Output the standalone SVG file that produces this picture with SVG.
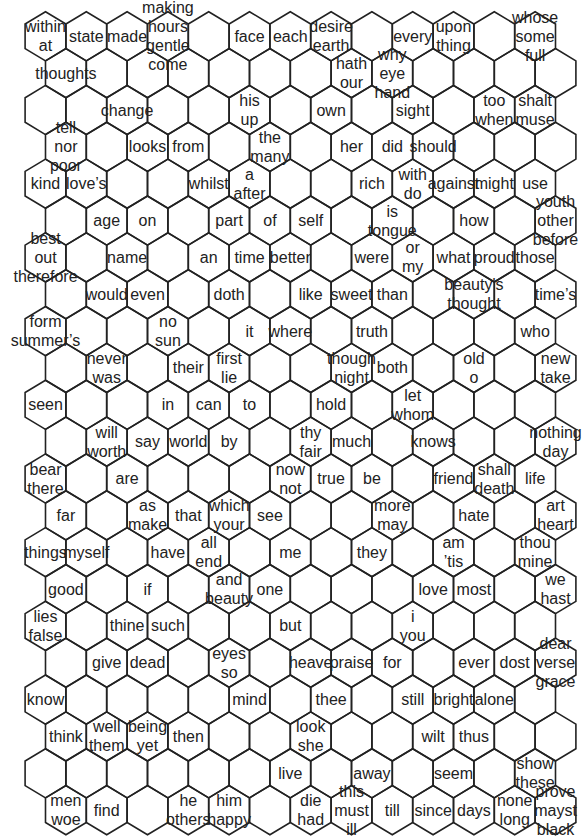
<svg xmlns="http://www.w3.org/2000/svg" xmlns:xlink="http://www.w3.org/1999/xlink" width="584" height="836" viewBox="0 0 584 836">
<style>
.hx{fill:none;stroke:#222;stroke-width:1.6;stroke-linejoin:miter}
text{font-family:"Liberation Sans",Arial,sans-serif;font-size:16px;fill:#222;text-anchor:middle}
</style>
<defs>
<path id="hx" class="hx" d="M0,-24.6L20.4,-12.3L20.4,12.3L0,24.6L-20.4,12.3L-20.4,-12.3Z"/>
</defs>
<rect width="584" height="836" fill="#fff"/>
<g id="empty-cells">
<use href="#hx" x="208.7" y="36.3"/><use href="#hx" x="371.9" y="36.3"/><use href="#hx" x="494.3" y="36.3"/>
<use href="#hx" x="106.7" y="73.15"/><use href="#hx" x="147.5" y="73.15"/><use href="#hx" x="188.3" y="73.15"/><use href="#hx" x="229.1" y="73.15"/><use href="#hx" x="269.9" y="73.15"/><use href="#hx" x="310.7" y="73.15"/><use href="#hx" x="433.1" y="73.15"/><use href="#hx" x="473.9" y="73.15"/><use href="#hx" x="514.7" y="73.15"/><use href="#hx" x="555.5" y="73.15"/>
<use href="#hx" x="45.5" y="110"/><use href="#hx" x="86.3" y="110"/><use href="#hx" x="167.9" y="110"/><use href="#hx" x="208.7" y="110"/><use href="#hx" x="290.3" y="110"/><use href="#hx" x="371.9" y="110"/><use href="#hx" x="453.5" y="110"/>
<use href="#hx" x="106.7" y="146.85"/><use href="#hx" x="229.1" y="146.85"/><use href="#hx" x="310.7" y="146.85"/><use href="#hx" x="473.9" y="146.85"/><use href="#hx" x="514.7" y="146.85"/><use href="#hx" x="555.5" y="146.85"/>
<use href="#hx" x="127.1" y="183.7"/><use href="#hx" x="167.9" y="183.7"/><use href="#hx" x="290.3" y="183.7"/><use href="#hx" x="331.1" y="183.7"/>
<use href="#hx" x="65.9" y="220.55"/><use href="#hx" x="188.3" y="220.55"/><use href="#hx" x="351.5" y="220.55"/><use href="#hx" x="433.1" y="220.55"/><use href="#hx" x="514.7" y="220.55"/>
<use href="#hx" x="86.3" y="257.4"/><use href="#hx" x="167.9" y="257.4"/><use href="#hx" x="331.1" y="257.4"/>
<use href="#hx" x="65.9" y="294.25"/><use href="#hx" x="188.3" y="294.25"/><use href="#hx" x="269.9" y="294.25"/><use href="#hx" x="433.1" y="294.25"/><use href="#hx" x="514.7" y="294.25"/>
<use href="#hx" x="86.3" y="331.1"/><use href="#hx" x="127.1" y="331.1"/><use href="#hx" x="208.7" y="331.1"/><use href="#hx" x="331.1" y="331.1"/><use href="#hx" x="412.7" y="331.1"/><use href="#hx" x="453.5" y="331.1"/><use href="#hx" x="494.3" y="331.1"/>
<use href="#hx" x="65.9" y="367.95"/><use href="#hx" x="147.5" y="367.95"/><use href="#hx" x="269.9" y="367.95"/><use href="#hx" x="310.7" y="367.95"/><use href="#hx" x="433.1" y="367.95"/><use href="#hx" x="514.7" y="367.95"/>
<use href="#hx" x="86.3" y="404.8"/><use href="#hx" x="127.1" y="404.8"/><use href="#hx" x="290.3" y="404.8"/><use href="#hx" x="371.9" y="404.8"/><use href="#hx" x="453.5" y="404.8"/><use href="#hx" x="494.3" y="404.8"/><use href="#hx" x="535.1" y="404.8"/>
<use href="#hx" x="65.9" y="441.65"/><use href="#hx" x="269.9" y="441.65"/><use href="#hx" x="392.3" y="441.65"/><use href="#hx" x="473.9" y="441.65"/><use href="#hx" x="514.7" y="441.65"/>
<use href="#hx" x="86.3" y="478.5"/><use href="#hx" x="167.9" y="478.5"/><use href="#hx" x="208.7" y="478.5"/><use href="#hx" x="249.5" y="478.5"/><use href="#hx" x="412.7" y="478.5"/>
<use href="#hx" x="106.7" y="515.35"/><use href="#hx" x="310.7" y="515.35"/><use href="#hx" x="351.5" y="515.35"/><use href="#hx" x="433.1" y="515.35"/><use href="#hx" x="514.7" y="515.35"/>
<use href="#hx" x="127.1" y="552.2"/><use href="#hx" x="249.5" y="552.2"/><use href="#hx" x="331.1" y="552.2"/><use href="#hx" x="412.7" y="552.2"/><use href="#hx" x="494.3" y="552.2"/>
<use href="#hx" x="106.7" y="589.05"/><use href="#hx" x="188.3" y="589.05"/><use href="#hx" x="310.7" y="589.05"/><use href="#hx" x="351.5" y="589.05"/><use href="#hx" x="392.3" y="589.05"/><use href="#hx" x="514.7" y="589.05"/>
<use href="#hx" x="86.3" y="625.9"/><use href="#hx" x="208.7" y="625.9"/><use href="#hx" x="249.5" y="625.9"/><use href="#hx" x="331.1" y="625.9"/><use href="#hx" x="371.9" y="625.9"/><use href="#hx" x="453.5" y="625.9"/><use href="#hx" x="494.3" y="625.9"/><use href="#hx" x="535.1" y="625.9"/>
<use href="#hx" x="65.9" y="662.75"/><use href="#hx" x="188.3" y="662.75"/><use href="#hx" x="269.9" y="662.75"/><use href="#hx" x="433.1" y="662.75"/>
<use href="#hx" x="86.3" y="699.6"/><use href="#hx" x="127.1" y="699.6"/><use href="#hx" x="167.9" y="699.6"/><use href="#hx" x="208.7" y="699.6"/><use href="#hx" x="290.3" y="699.6"/><use href="#hx" x="371.9" y="699.6"/><use href="#hx" x="535.1" y="699.6"/>
<use href="#hx" x="229.1" y="736.45"/><use href="#hx" x="269.9" y="736.45"/><use href="#hx" x="351.5" y="736.45"/><use href="#hx" x="392.3" y="736.45"/><use href="#hx" x="514.7" y="736.45"/><use href="#hx" x="555.5" y="736.45"/>
<use href="#hx" x="45.5" y="773.3"/><use href="#hx" x="86.3" y="773.3"/><use href="#hx" x="127.1" y="773.3"/><use href="#hx" x="167.9" y="773.3"/><use href="#hx" x="208.7" y="773.3"/><use href="#hx" x="249.5" y="773.3"/><use href="#hx" x="331.1" y="773.3"/><use href="#hx" x="412.7" y="773.3"/><use href="#hx" x="494.3" y="773.3"/>
<use href="#hx" x="147.5" y="810.15"/><use href="#hx" x="269.9" y="810.15"/>
</g>
<g id="connectors"/>
<g id="nodes">
<g id="n0-0" transform="translate(45.5,36.3)"><use href="#hx"/><text><tspan x="0" y="-4">within</tspan><tspan x="0" dy="19">at</tspan></text></g>
<g id="n0-1" transform="translate(86.3,36.3)"><use href="#hx"/><text y="5.5">state</text></g>
<g id="n0-2" transform="translate(127.1,36.3)"><use href="#hx"/><text y="5.5">made</text></g>
<g id="n0-3" transform="translate(167.9,36.3)"><use href="#hx"/><text><tspan x="0" y="-23">making</tspan><tspan x="0" dy="19">hours</tspan><tspan x="0" dy="19">gentle</tspan><tspan x="0" dy="19">come</tspan></text></g>
<g id="n0-5" transform="translate(249.5,36.3)"><use href="#hx"/><text y="5.5">face</text></g>
<g id="n0-6" transform="translate(290.3,36.3)"><use href="#hx"/><text y="5.5">each</text></g>
<g id="n0-7" transform="translate(331.1,36.3)"><use href="#hx"/><text><tspan x="0" y="-4">desire</tspan><tspan x="0" dy="19">earth</tspan></text></g>
<g id="n0-9" transform="translate(412.7,36.3)"><use href="#hx"/><text y="5.5">every</text></g>
<g id="n0-10" transform="translate(453.5,36.3)"><use href="#hx"/><text><tspan x="0" y="-4">upon</tspan><tspan x="0" dy="19">thing</tspan></text></g>
<g id="n0-12" transform="translate(535.1,36.3)"><use href="#hx"/><text><tspan x="0" y="-13.5">whose</tspan><tspan x="0" dy="19">some</tspan><tspan x="0" dy="19">full</tspan></text></g>

<g id="n1-0" transform="translate(65.9,73.15)"><use href="#hx"/><text y="5.5">thoughts</text></g>
<g id="n1-7" transform="translate(351.5,73.15)"><use href="#hx"/><text><tspan x="0" y="-4">hath</tspan><tspan x="0" dy="19">our</tspan></text></g>
<g id="n1-8" transform="translate(392.3,73.15)"><use href="#hx"/><text><tspan x="0" y="-13.5">why</tspan><tspan x="0" dy="19">eye</tspan><tspan x="0" dy="19">hand</tspan></text></g>

<g id="n2-2" transform="translate(127.1,110)"><use href="#hx"/><text y="5.5">change</text></g>
<g id="n2-5" transform="translate(249.5,110)"><use href="#hx"/><text><tspan x="0" y="-4">his</tspan><tspan x="0" dy="19">up</tspan></text></g>
<g id="n2-7" transform="translate(331.1,110)"><use href="#hx"/><text y="5.5">own</text></g>
<g id="n2-9" transform="translate(412.7,110)"><use href="#hx"/><text y="5.5">sight</text></g>
<g id="n2-11" transform="translate(494.3,110)"><use href="#hx"/><text><tspan x="0" y="-4">too</tspan><tspan x="0" dy="19">when</tspan></text></g>
<g id="n2-12" transform="translate(535.1,110)"><use href="#hx"/><text><tspan x="0" y="-4">shalt</tspan><tspan x="0" dy="19">muse</tspan></text></g>

<g id="n3-0" transform="translate(65.9,146.85)"><use href="#hx"/><text><tspan x="0" y="-13.5">tell</tspan><tspan x="0" dy="19">nor</tspan><tspan x="0" dy="19">poor</tspan></text></g>
<g id="n3-2" transform="translate(147.5,146.85)"><use href="#hx"/><text y="5.5">looks</text></g>
<g id="n3-3" transform="translate(188.3,146.85)"><use href="#hx"/><text y="5.5">from</text></g>
<g id="n3-5" transform="translate(269.9,146.85)"><use href="#hx"/><text><tspan x="0" y="-4">the</tspan><tspan x="0" dy="19">many</tspan></text></g>
<g id="n3-7" transform="translate(351.5,146.85)"><use href="#hx"/><text y="5.5">her</text></g>
<g id="n3-8" transform="translate(392.3,146.85)"><use href="#hx"/><text y="5.5">did</text></g>
<g id="n3-9" transform="translate(433.1,146.85)"><use href="#hx"/><text y="5.5">should</text></g>

<g id="n4-0" transform="translate(45.5,183.7)"><use href="#hx"/><text y="5.5">kind</text></g>
<g id="n4-1" transform="translate(86.3,183.7)"><use href="#hx"/><text y="5.5">love’s</text></g>
<g id="n4-4" transform="translate(208.7,183.7)"><use href="#hx"/><text y="5.5">whilst</text></g>
<g id="n4-5" transform="translate(249.5,183.7)"><use href="#hx"/><text><tspan x="0" y="-4">a</tspan><tspan x="0" dy="19">after</tspan></text></g>
<g id="n4-8" transform="translate(371.9,183.7)"><use href="#hx"/><text y="5.5">rich</text></g>
<g id="n4-9" transform="translate(412.7,183.7)"><use href="#hx"/><text><tspan x="0" y="-4">with</tspan><tspan x="0" dy="19">do</tspan></text></g>
<g id="n4-10" transform="translate(453.5,183.7)"><use href="#hx"/><text y="5.5">against</text></g>
<g id="n4-11" transform="translate(494.3,183.7)"><use href="#hx"/><text y="5.5">might</text></g>
<g id="n4-12" transform="translate(535.1,183.7)"><use href="#hx"/><text y="5.5">use</text></g>

<g id="n5-1" transform="translate(106.7,220.55)"><use href="#hx"/><text y="5.5">age</text></g>
<g id="n5-2" transform="translate(147.5,220.55)"><use href="#hx"/><text y="5.5">on</text></g>
<g id="n5-4" transform="translate(229.1,220.55)"><use href="#hx"/><text y="5.5">part</text></g>
<g id="n5-5" transform="translate(269.9,220.55)"><use href="#hx"/><text y="5.5">of</text></g>
<g id="n5-6" transform="translate(310.7,220.55)"><use href="#hx"/><text y="5.5">self</text></g>
<g id="n5-8" transform="translate(392.3,220.55)"><use href="#hx"/><text><tspan x="0" y="-4">is</tspan><tspan x="0" dy="19">tongue</tspan></text></g>
<g id="n5-10" transform="translate(473.9,220.55)"><use href="#hx"/><text y="5.5">how</text></g>
<g id="n5-12" transform="translate(555.5,220.55)"><use href="#hx"/><text><tspan x="0" y="-13.5">youth</tspan><tspan x="0" dy="19">other</tspan><tspan x="0" dy="19">before</tspan></text></g>

<g id="n6-0" transform="translate(45.5,257.4)"><use href="#hx"/><text><tspan x="0" y="-13.5">best</tspan><tspan x="0" dy="19">out</tspan><tspan x="0" dy="19">therefore</tspan></text></g>
<g id="n6-2" transform="translate(127.1,257.4)"><use href="#hx"/><text y="5.5">name</text></g>
<g id="n6-4" transform="translate(208.7,257.4)"><use href="#hx"/><text y="5.5">an</text></g>
<g id="n6-5" transform="translate(249.5,257.4)"><use href="#hx"/><text y="5.5">time</text></g>
<g id="n6-6" transform="translate(290.3,257.4)"><use href="#hx"/><text y="5.5">better</text></g>
<g id="n6-8" transform="translate(371.9,257.4)"><use href="#hx"/><text y="5.5">were</text></g>
<g id="n6-9" transform="translate(412.7,257.4)"><use href="#hx"/><text><tspan x="0" y="-4">or</tspan><tspan x="0" dy="19">my</tspan></text></g>
<g id="n6-10" transform="translate(453.5,257.4)"><use href="#hx"/><text y="5.5">what</text></g>
<g id="n6-11" transform="translate(494.3,257.4)"><use href="#hx"/><text y="5.5">proud</text></g>
<g id="n6-12" transform="translate(535.1,257.4)"><use href="#hx"/><text y="5.5">those</text></g>

<g id="n7-1" transform="translate(106.7,294.25)"><use href="#hx"/><text y="5.5">would</text></g>
<g id="n7-2" transform="translate(147.5,294.25)"><use href="#hx"/><text y="5.5">even</text></g>
<g id="n7-4" transform="translate(229.1,294.25)"><use href="#hx"/><text y="5.5">doth</text></g>
<g id="n7-6" transform="translate(310.7,294.25)"><use href="#hx"/><text y="5.5">like</text></g>
<g id="n7-7" transform="translate(351.5,294.25)"><use href="#hx"/><text y="5.5">sweet</text></g>
<g id="n7-8" transform="translate(392.3,294.25)"><use href="#hx"/><text y="5.5">than</text></g>
<g id="n7-10" transform="translate(473.9,294.25)"><use href="#hx"/><text><tspan x="0" y="-4">beauty's</tspan><tspan x="0" dy="19">thought</tspan></text></g>
<g id="n7-12" transform="translate(555.5,294.25)"><use href="#hx"/><text y="5.5">time’s</text></g>

<g id="n8-0" transform="translate(45.5,331.1)"><use href="#hx"/><text><tspan x="0" y="-4">form</tspan><tspan x="0" dy="19">summer’s</tspan></text></g>
<g id="n8-3" transform="translate(167.9,331.1)"><use href="#hx"/><text><tspan x="0" y="-4">no</tspan><tspan x="0" dy="19">sun</tspan></text></g>
<g id="n8-5" transform="translate(249.5,331.1)"><use href="#hx"/><text y="5.5">it</text></g>
<g id="n8-6" transform="translate(290.3,331.1)"><use href="#hx"/><text y="5.5">where</text></g>
<g id="n8-8" transform="translate(371.9,331.1)"><use href="#hx"/><text y="5.5">truth</text></g>
<g id="n8-12" transform="translate(535.1,331.1)"><use href="#hx"/><text y="5.5">who</text></g>

<g id="n9-1" transform="translate(106.7,367.95)"><use href="#hx"/><text><tspan x="0" y="-4">never</tspan><tspan x="0" dy="19">was</tspan></text></g>
<g id="n9-3" transform="translate(188.3,367.95)"><use href="#hx"/><text y="5.5">their</text></g>
<g id="n9-4" transform="translate(229.1,367.95)"><use href="#hx"/><text><tspan x="0" y="-4">first</tspan><tspan x="0" dy="19">lie</tspan></text></g>
<g id="n9-7" transform="translate(351.5,367.95)"><use href="#hx"/><text><tspan x="0" y="-4">though</tspan><tspan x="0" dy="19">night</tspan></text></g>
<g id="n9-8" transform="translate(392.3,367.95)"><use href="#hx"/><text y="5.5">both</text></g>
<g id="n9-10" transform="translate(473.9,367.95)"><use href="#hx"/><text><tspan x="0" y="-4">old</tspan><tspan x="0" dy="19">o</tspan></text></g>
<g id="n9-12" transform="translate(555.5,367.95)"><use href="#hx"/><text><tspan x="0" y="-4">new</tspan><tspan x="0" dy="19">take</tspan></text></g>

<g id="n10-0" transform="translate(45.5,404.8)"><use href="#hx"/><text y="5.5">seen</text></g>
<g id="n10-3" transform="translate(167.9,404.8)"><use href="#hx"/><text y="5.5">in</text></g>
<g id="n10-4" transform="translate(208.7,404.8)"><use href="#hx"/><text y="5.5">can</text></g>
<g id="n10-5" transform="translate(249.5,404.8)"><use href="#hx"/><text y="5.5">to</text></g>
<g id="n10-7" transform="translate(331.1,404.8)"><use href="#hx"/><text y="5.5">hold</text></g>
<g id="n10-9" transform="translate(412.7,404.8)"><use href="#hx"/><text><tspan x="0" y="-4">let</tspan><tspan x="0" dy="19">whom</tspan></text></g>

<g id="n11-1" transform="translate(106.7,441.65)"><use href="#hx"/><text><tspan x="0" y="-4">will</tspan><tspan x="0" dy="19">worth</tspan></text></g>
<g id="n11-2" transform="translate(147.5,441.65)"><use href="#hx"/><text y="5.5">say</text></g>
<g id="n11-3" transform="translate(188.3,441.65)"><use href="#hx"/><text y="5.5">world</text></g>
<g id="n11-4" transform="translate(229.1,441.65)"><use href="#hx"/><text y="5.5">by</text></g>
<g id="n11-6" transform="translate(310.7,441.65)"><use href="#hx"/><text><tspan x="0" y="-4">thy</tspan><tspan x="0" dy="19">fair</tspan></text></g>
<g id="n11-7" transform="translate(351.5,441.65)"><use href="#hx"/><text y="5.5">much</text></g>
<g id="n11-9" transform="translate(433.1,441.65)"><use href="#hx"/><text y="5.5">knows</text></g>
<g id="n11-12" transform="translate(555.5,441.65)"><use href="#hx"/><text><tspan x="0" y="-4">nothing</tspan><tspan x="0" dy="19">day</tspan></text></g>

<g id="n12-0" transform="translate(45.5,478.5)"><use href="#hx"/><text><tspan x="0" y="-4">bear</tspan><tspan x="0" dy="19">there</tspan></text></g>
<g id="n12-2" transform="translate(127.1,478.5)"><use href="#hx"/><text y="5.5">are</text></g>
<g id="n12-6" transform="translate(290.3,478.5)"><use href="#hx"/><text><tspan x="0" y="-4">now</tspan><tspan x="0" dy="19">not</tspan></text></g>
<g id="n12-7" transform="translate(331.1,478.5)"><use href="#hx"/><text y="5.5">true</text></g>
<g id="n12-8" transform="translate(371.9,478.5)"><use href="#hx"/><text y="5.5">be</text></g>
<g id="n12-10" transform="translate(453.5,478.5)"><use href="#hx"/><text y="5.5">friend</text></g>
<g id="n12-11" transform="translate(494.3,478.5)"><use href="#hx"/><text><tspan x="0" y="-4">shall</tspan><tspan x="0" dy="19">death</tspan></text></g>
<g id="n12-12" transform="translate(535.1,478.5)"><use href="#hx"/><text y="5.5">life</text></g>

<g id="n13-0" transform="translate(65.9,515.35)"><use href="#hx"/><text y="5.5">far</text></g>
<g id="n13-2" transform="translate(147.5,515.35)"><use href="#hx"/><text><tspan x="0" y="-4">as</tspan><tspan x="0" dy="19">make</tspan></text></g>
<g id="n13-3" transform="translate(188.3,515.35)"><use href="#hx"/><text y="5.5">that</text></g>
<g id="n13-4" transform="translate(229.1,515.35)"><use href="#hx"/><text><tspan x="0" y="-4">which</tspan><tspan x="0" dy="19">your</tspan></text></g>
<g id="n13-5" transform="translate(269.9,515.35)"><use href="#hx"/><text y="5.5">see</text></g>
<g id="n13-8" transform="translate(392.3,515.35)"><use href="#hx"/><text><tspan x="0" y="-4">more</tspan><tspan x="0" dy="19">may</tspan></text></g>
<g id="n13-10" transform="translate(473.9,515.35)"><use href="#hx"/><text y="5.5">hate</text></g>
<g id="n13-12" transform="translate(555.5,515.35)"><use href="#hx"/><text><tspan x="0" y="-4">art</tspan><tspan x="0" dy="19">heart</tspan></text></g>

<g id="n14-0" transform="translate(45.5,552.2)"><use href="#hx"/><text y="5.5">things</text></g>
<g id="n14-1" transform="translate(86.3,552.2)"><use href="#hx"/><text y="5.5">myself</text></g>
<g id="n14-3" transform="translate(167.9,552.2)"><use href="#hx"/><text y="5.5">have</text></g>
<g id="n14-4" transform="translate(208.7,552.2)"><use href="#hx"/><text><tspan x="0" y="-4">all</tspan><tspan x="0" dy="19">end</tspan></text></g>
<g id="n14-6" transform="translate(290.3,552.2)"><use href="#hx"/><text y="5.5">me</text></g>
<g id="n14-8" transform="translate(371.9,552.2)"><use href="#hx"/><text y="5.5">they</text></g>
<g id="n14-10" transform="translate(453.5,552.2)"><use href="#hx"/><text><tspan x="0" y="-4">am</tspan><tspan x="0" dy="19">’tis</tspan></text></g>
<g id="n14-12" transform="translate(535.1,552.2)"><use href="#hx"/><text><tspan x="0" y="-4">thou</tspan><tspan x="0" dy="19">mine</tspan></text></g>

<g id="n15-0" transform="translate(65.9,589.05)"><use href="#hx"/><text y="5.5">good</text></g>
<g id="n15-2" transform="translate(147.5,589.05)"><use href="#hx"/><text y="5.5">if</text></g>
<g id="n15-4" transform="translate(229.1,589.05)"><use href="#hx"/><text><tspan x="0" y="-4">and</tspan><tspan x="0" dy="19">beauty</tspan></text></g>
<g id="n15-5" transform="translate(269.9,589.05)"><use href="#hx"/><text y="5.5">one</text></g>
<g id="n15-9" transform="translate(433.1,589.05)"><use href="#hx"/><text y="5.5">love</text></g>
<g id="n15-10" transform="translate(473.9,589.05)"><use href="#hx"/><text y="5.5">most</text></g>
<g id="n15-12" transform="translate(555.5,589.05)"><use href="#hx"/><text><tspan x="0" y="-4">we</tspan><tspan x="0" dy="19">hast</tspan></text></g>

<g id="n16-0" transform="translate(45.5,625.9)"><use href="#hx"/><text><tspan x="0" y="-4">lies</tspan><tspan x="0" dy="19">false</tspan></text></g>
<g id="n16-2" transform="translate(127.1,625.9)"><use href="#hx"/><text y="5.5">thine</text></g>
<g id="n16-3" transform="translate(167.9,625.9)"><use href="#hx"/><text y="5.5">such</text></g>
<g id="n16-6" transform="translate(290.3,625.9)"><use href="#hx"/><text y="5.5">but</text></g>
<g id="n16-9" transform="translate(412.7,625.9)"><use href="#hx"/><text><tspan x="0" y="-4">i</tspan><tspan x="0" dy="19">you</tspan></text></g>

<g id="n17-1" transform="translate(106.7,662.75)"><use href="#hx"/><text y="5.5">give</text></g>
<g id="n17-2" transform="translate(147.5,662.75)"><use href="#hx"/><text y="5.5">dead</text></g>
<g id="n17-4" transform="translate(229.1,662.75)"><use href="#hx"/><text><tspan x="0" y="-4">eyes</tspan><tspan x="0" dy="19">so</tspan></text></g>
<g id="n17-6" transform="translate(310.7,662.75)"><use href="#hx"/><text y="5.5">heave</text></g>
<g id="n17-7" transform="translate(351.5,662.75)"><use href="#hx"/><text y="5.5">praise</text></g>
<g id="n17-8" transform="translate(392.3,662.75)"><use href="#hx"/><text y="5.5">for</text></g>
<g id="n17-10" transform="translate(473.9,662.75)"><use href="#hx"/><text y="5.5">ever</text></g>
<g id="n17-11" transform="translate(514.7,662.75)"><use href="#hx"/><text y="5.5">dost</text></g>
<g id="n17-12" transform="translate(555.5,662.75)"><use href="#hx"/><text><tspan x="0" y="-13.5">dear</tspan><tspan x="0" dy="19">verse</tspan><tspan x="0" dy="19">grace</tspan></text></g>

<g id="n18-0" transform="translate(45.5,699.6)"><use href="#hx"/><text y="5.5">know</text></g>
<g id="n18-5" transform="translate(249.5,699.6)"><use href="#hx"/><text y="5.5">mind</text></g>
<g id="n18-7" transform="translate(331.1,699.6)"><use href="#hx"/><text y="5.5">thee</text></g>
<g id="n18-9" transform="translate(412.7,699.6)"><use href="#hx"/><text y="5.5">still</text></g>
<g id="n18-10" transform="translate(453.5,699.6)"><use href="#hx"/><text y="5.5">bright</text></g>
<g id="n18-11" transform="translate(494.3,699.6)"><use href="#hx"/><text y="5.5">alone</text></g>

<g id="n19-0" transform="translate(65.9,736.45)"><use href="#hx"/><text y="5.5">think</text></g>
<g id="n19-1" transform="translate(106.7,736.45)"><use href="#hx"/><text><tspan x="0" y="-4">well</tspan><tspan x="0" dy="19">them</tspan></text></g>
<g id="n19-2" transform="translate(147.5,736.45)"><use href="#hx"/><text><tspan x="0" y="-4">being</tspan><tspan x="0" dy="19">yet</tspan></text></g>
<g id="n19-3" transform="translate(188.3,736.45)"><use href="#hx"/><text y="5.5">then</text></g>
<g id="n19-6" transform="translate(310.7,736.45)"><use href="#hx"/><text><tspan x="0" y="-4">look</tspan><tspan x="0" dy="19">she</tspan></text></g>
<g id="n19-9" transform="translate(433.1,736.45)"><use href="#hx"/><text y="5.5">wilt</text></g>
<g id="n19-10" transform="translate(473.9,736.45)"><use href="#hx"/><text y="5.5">thus</text></g>

<g id="n20-6" transform="translate(290.3,773.3)"><use href="#hx"/><text y="5.5">live</text></g>
<g id="n20-8" transform="translate(371.9,773.3)"><use href="#hx"/><text y="5.5">away</text></g>
<g id="n20-10" transform="translate(453.5,773.3)"><use href="#hx"/><text y="5.5">seem</text></g>
<g id="n20-12" transform="translate(535.1,773.3)"><use href="#hx"/><text><tspan x="0" y="-4">show</tspan><tspan x="0" dy="19">these</tspan></text></g>

<g id="n21-0" transform="translate(65.9,810.15)"><use href="#hx"/><text><tspan x="0" y="-4">men</tspan><tspan x="0" dy="19">woe</tspan></text></g>
<g id="n21-1" transform="translate(106.7,810.15)"><use href="#hx"/><text y="5.5">find</text></g>
<g id="n21-3" transform="translate(188.3,810.15)"><use href="#hx"/><text><tspan x="0" y="-4">he</tspan><tspan x="0" dy="19">others</tspan></text></g>
<g id="n21-4" transform="translate(229.1,810.15)"><use href="#hx"/><text><tspan x="0" y="-4">him</tspan><tspan x="0" dy="19">happy</tspan></text></g>
<g id="n21-6" transform="translate(310.7,810.15)"><use href="#hx"/><text><tspan x="0" y="-4">die</tspan><tspan x="0" dy="19">had</tspan></text></g>
<g id="n21-7" transform="translate(351.5,810.15)"><use href="#hx"/><text><tspan x="0" y="-13.5">this</tspan><tspan x="0" dy="19">must</tspan><tspan x="0" dy="19">ill</tspan></text></g>
<g id="n21-8" transform="translate(392.3,810.15)"><use href="#hx"/><text y="5.5">till</text></g>
<g id="n21-9" transform="translate(433.1,810.15)"><use href="#hx"/><text y="5.5">since</text></g>
<g id="n21-10" transform="translate(473.9,810.15)"><use href="#hx"/><text y="5.5">days</text></g>
<g id="n21-11" transform="translate(514.7,810.15)"><use href="#hx"/><text><tspan x="0" y="-4">none</tspan><tspan x="0" dy="19">long</tspan></text></g>
<g id="n21-12" transform="translate(555.5,810.15)"><use href="#hx"/><text><tspan x="0" y="-13.5">prove</tspan><tspan x="0" dy="19">mayst</tspan><tspan x="0" dy="19">black</tspan></text></g>
</g>
</svg>
